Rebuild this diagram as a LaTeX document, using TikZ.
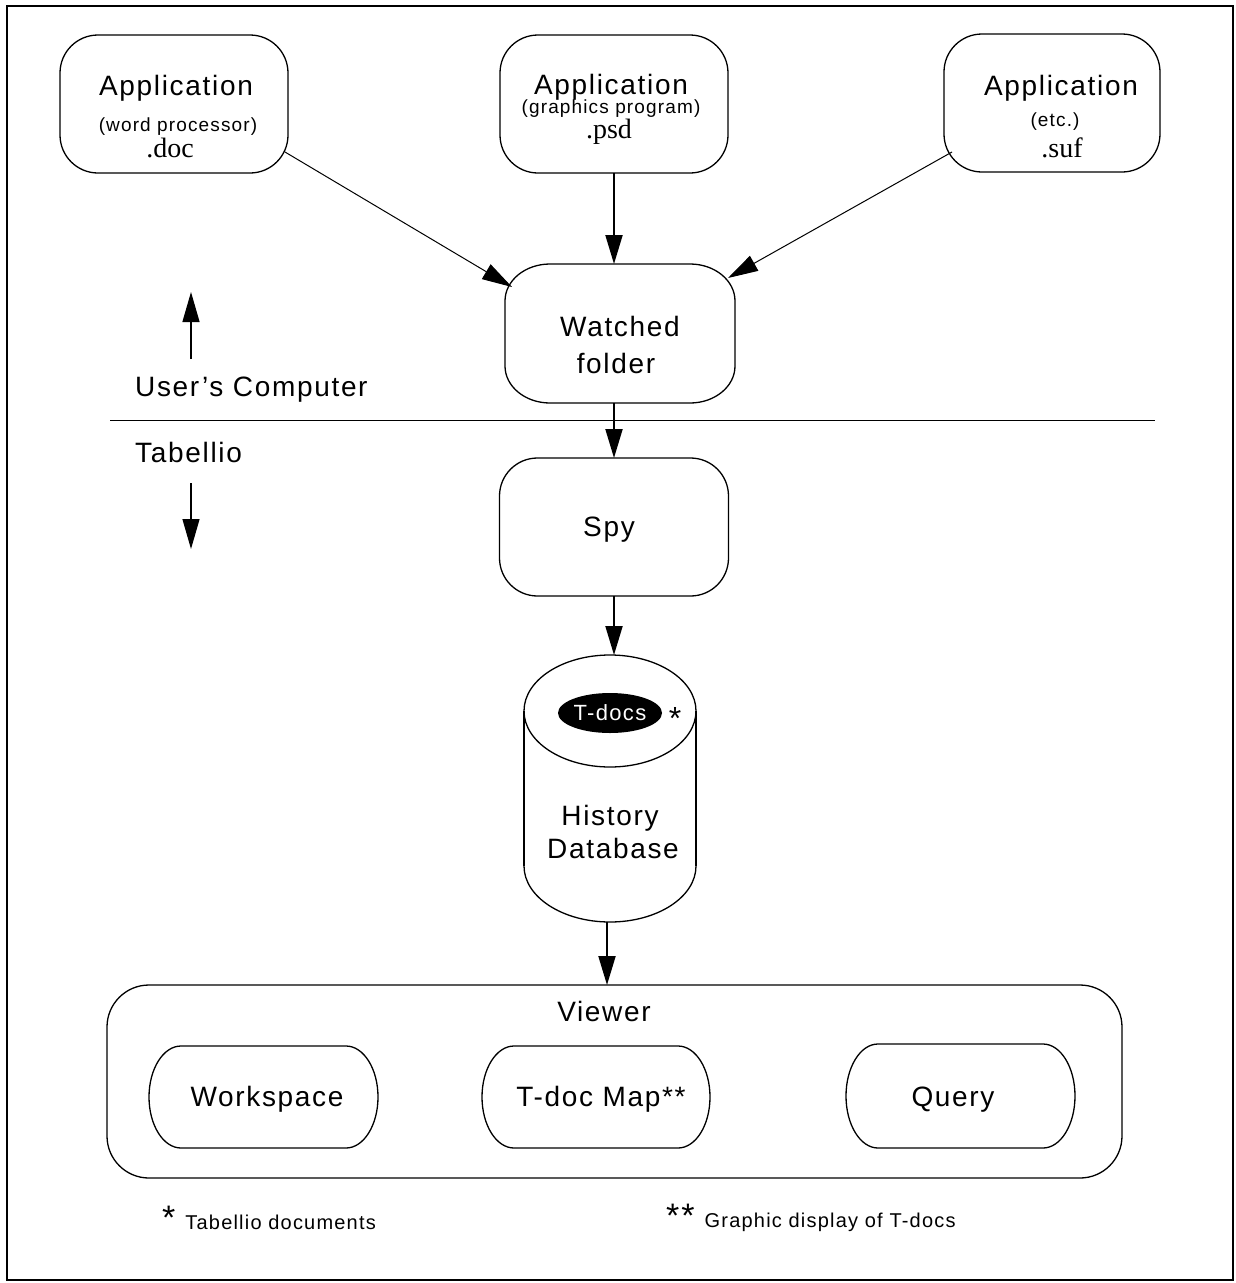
\documentclass[tikz,border=0pt]{standalone}
\usepackage{fontspec}
\setmainfont{Liberation Sans}
\newfontfamily\lsf[LetterSpace=6]{Liberation Sans}
\newfontfamily\serifx{Liberation Serif}
\usetikzlibrary{arrows.meta,shapes.geometric}

\newcommand\myoutline[3]{%
  \draw[boxline] ([xshift=#2pt]#1.north west) -- ([xshift=-#2pt]#1.north east)
    arc[start angle=90,end angle=0,x radius=#2,y radius=#3]
    -- ([yshift=#3pt]#1.south east)
    arc[start angle=0,end angle=-90,x radius=#2,y radius=#3]
    -- ([xshift=#2pt]#1.south west)
    arc[start angle=-90,end angle=-180,x radius=#2,y radius=#3]
    -- ([yshift=-#3pt]#1.north west)
    arc[start angle=180,end angle=90,x radius=#2,y radius=#3] -- cycle;}

\tikzset{
  boxline/.style={line width=1.3pt, line join=round},
  area/.style={rectangle, draw=none, inner sep=0pt, outer sep=0pt},
  lbl/.style={anchor=base, inner sep=0pt, font=\lsf\fontsize{28}{32}\selectfont},
  sublbl/.style={anchor=base, inner sep=0pt, font=\lsf\fontsize{19}{22}\selectfont},
  extlbl/.style={anchor=base, inner sep=0pt, font=\serifx\fontsize{28}{30}\selectfont},
  arr/.style={line width=2pt, -{Triangle[length=29pt,width=17pt]}},
  thinarr/.style={line width=1pt, -{Triangle[length=30pt,width=17pt]}},
}

\begin{document}
\begin{tikzpicture}[x=1pt,y=1pt]
\useasboundingbox (0,0) rectangle (1235,-1283);
\draw[line width=2.5pt] (7,-6) rectangle (1233,-1280);

% application boxes
\node[area, minimum width=228pt, minimum height=138pt] (app1) at (174,-104) {};
\node[area, minimum width=228pt, minimum height=138pt] (app2) at (614,-104) {};
\node[area, minimum width=216pt, minimum height=138pt] (app3) at (1052,-103) {};
\myoutline{app1}{38}{38}
\myoutline{app2}{38}{38}
\myoutline{app3}{38}{38}

\node[lbl] (a1t) at (176,-95.7) {Application};
\node[sublbl] (a1s) at (178,-131.7) {(word processor)};
\node[extlbl] (a1e) at (170,-157) {.doc};

\node[lbl] (a2t) at (611,-94) {Application};
\node[sublbl] (a2s) at (611,-113) {(graphics program)};
\node[extlbl] (a2e) at (609,-138) {.psd};

\node[lbl] (a3t) at (1061,-95.7) {Application};
\node[sublbl] (a3s) at (1055,-126.7) {(etc.)};
\node[extlbl] (a3e) at (1062,-157.7) {.suf};

% watched folder
\node[area, minimum width=230pt, minimum height=139pt] (watched) at (620,-333.5) {};
\myoutline{watched}{45}{37}
\node[lbl] (w1) at (620,-336.7) {Watched};
\node[lbl] (w2) at (616,-373) {folder};

% spy
\node[area, minimum width=229pt, minimum height=138pt] (spy) at (614,-527) {};
\myoutline{spy}{38}{38}
\node[lbl] (s1) at (609,-536.7) {Spy};

% separator and side labels
\coordinate (hl1) at (110,-420.5);
\coordinate (hl2) at (1155,-420.5);
\draw[line width=1.3pt] (hl1) -- (hl2);
\node[lbl, anchor=base west] (uc) at (135,-396) {User’s Computer};
\node[lbl, anchor=base west] (tab) at (135,-462.7) {Tabellio};
\coordinate (up1) at (191,-359);
\coordinate (up2) at (191,-292);
\coordinate (dn1) at (191,-483);
\coordinate (dn2) at (191,-549);
\draw[line width=1.3pt, -{Triangle[length=30pt,width=17pt]}] (up1) -- (up2);
\draw[line width=1.3pt, -{Triangle[length=30pt,width=17pt]}] (dn1) -- (dn2);

% database cylinder
\draw[boxline] (610,-711) ellipse[x radius=86, y radius=56];
\draw[line width=1.8pt] (524,-711) -- (524,-866);
\draw[line width=1.8pt] (696,-711) -- (696,-866);
\draw[boxline] (524,-866) arc[start angle=180, end angle=360, x radius=86, y radius=56];
\coordinate (dbtop) at (614,-655);
\coordinate (dbbot) at (607,-922);
\node[ellipse, fill=black, text=white, minimum width=104pt, minimum height=40pt, inner sep=0pt,
      font=\lsf\fontsize{22}{24}\selectfont] (tdocs) at (610,-713) {T-docs};
\node[anchor=base, inner sep=0pt, font=\lsf\fontsize{32}{34}\selectfont] (star1) at (675,-729) {*};
\node[lbl] (h1) at (610,-825) {History};
\node[lbl] (h2) at (613,-858) {Database};

% viewer
\node[area, minimum width=1015pt, minimum height=193pt] (viewer) at (614.5,-1081.5) {};
\myoutline{viewer}{42}{42}
\node[lbl] (vl) at (604,-1021.7) {Viewer};

\node[area, minimum width=229pt, minimum height=102pt] (ws) at (263.5,-1097) {};
\node[area, minimum width=228pt, minimum height=102pt] (tmap) at (596,-1097) {};
\node[area, minimum width=229pt, minimum height=104pt] (query) at (960.5,-1096) {};
\myoutline{ws}{32}{51}
\myoutline{tmap}{32}{51}
\myoutline{query}{32}{52}
\node[lbl] (wsl) at (267,-1106) {Workspace};
\node[lbl] (tml) at (601,-1106) {T-doc Map**};
\node[lbl] (ql) at (953,-1106) {Query};

% footnotes
\node[anchor=base west, inner sep=0pt] (fn1) at (162,-1229)
  {{\lsf\fontsize{34}{36}\selectfont *}\hspace{10pt}{\lsf\fontsize{20}{24}\selectfont Tabellio documents}};
\node[anchor=base west, inner sep=0pt] (fn2) at (666,-1227)
  {{\lsf\fontsize{34}{36}\selectfont **}\hspace{10pt}{\lsf\fontsize{20}{24}\selectfont Graphic display of T-docs}};

% connectors
\draw[thinarr] ([shift={(-3,21)}]app1.south east) -- ([shift={(7,-23)}]watched.north west);
\draw[thinarr] ([shift={(8,20)}]app3.south west) -- ([shift={(-7,-14)}]watched.north east);
\draw[arr] (app2.south) -- (app2.south |- watched.north);
\draw[arr] (spy.north |- watched.south) -- (spy.north);
\draw[arr] (spy.south) -- (dbtop);
\draw[arr] (dbbot) -- (dbbot |- viewer.north);
\end{tikzpicture}
\end{document}
